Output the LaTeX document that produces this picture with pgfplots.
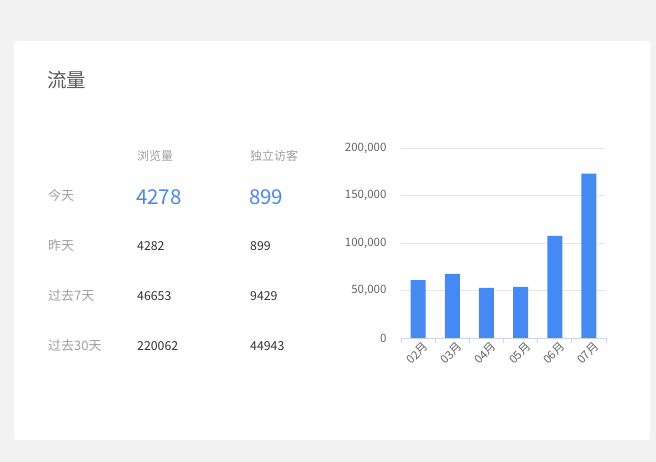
\documentclass[border=0pt]{standalone}
\usepackage{fontspec}
\setmainfont{Noto Sans CJK SC}
\usepackage{pgfplots}
\pgfplotsset{compat=1.18}
\definecolor{bgc}{HTML}{F2F2F2}
\definecolor{titlec}{HTML}{5A5A5A}
\definecolor{labc}{HTML}{A0A0A0}
\definecolor{valc}{HTML}{333333}
\definecolor{bigc}{HTML}{4A88E8}
\definecolor{barc}{HTML}{4589F5}
\definecolor{gridc}{HTML}{E6E6E6}
\definecolor{axc}{HTML}{C9D6E8}
\definecolor{tickc}{HTML}{666666}
\begin{document}
\begin{tikzpicture}[x=1pt,y=1pt]
\fill[bgc] (0pt,0pt) rectangle (656pt,462pt);
\useasboundingbox (0pt,0pt) rectangle (656pt,462pt);
\fill[white, rounded corners=3pt] (14pt,22pt) rectangle (650pt,421pt);
\node[anchor=west, inner sep=0pt, text=titlec, font=\fontsize{19.5}{22}\selectfont] at (47pt,382pt) {流量};
% headers
\node[anchor=west, inner sep=0pt, text=labc, font=\fontsize{12}{14}\selectfont] at (137pt,306pt) {浏览量};
\node[anchor=west, inner sep=0pt, text=labc, font=\fontsize{12}{14}\selectfont] at (250pt,306pt) {独立访客};
% row labels
\foreach \lab/\yy in {今天/266, 昨天/216, 过去7天/166, 过去30天/116}
  \node[anchor=west, inner sep=0pt, text=labc, font=\fontsize{13}{15}\selectfont] at (48pt,\yy pt) {\lab};
\node[anchor=west, inner sep=0pt, text=bigc, font=\fontsize{20.5}{24}\selectfont] at (136pt,265pt) {4278};
\node[anchor=west, inner sep=0pt, text=bigc, font=\fontsize{20.5}{24}\selectfont] at (249pt,265pt) {899};
\foreach \a/\b/\yy in {4282/899/216, 46653/9429/166, 220062/44943/116}{
  \node[anchor=west, inner sep=0pt, text=valc, font=\fontsize{12.3}{15}\selectfont] at (137pt,\yy pt) {\a};
  \node[anchor=west, inner sep=0pt, text=valc, font=\fontsize{12.3}{15}\selectfont] at (250pt,\yy pt) {\b};
}
\begin{axis}[
  at={(401pt,124pt)}, anchor=south west,
  scale only axis, width=205pt, height=190pt,
  xmin=-0.5, xmax=5.5, ymin=0, ymax=200000,
  axis line style={draw=none},
  xtick pos=lower, ytick pos=left,
  xtick={0,...,5},
  xticklabels={02月,03月,04月,05月,06月,07月},
  minor xtick={-0.5,0.5,...,5.5},
  major tick length=0pt,
  minor tick length=5pt,
  tick align=outside,
  minor tick style={axc, line width=0.8pt},
  x tick label style={rotate=45, anchor=north east, font=\fontsize{11.5}{13}\selectfont, text=tickc, inner sep=1pt, yshift=-4pt, xshift=2pt},
  ytick={0,50000,100000,150000,200000},
  scaled y ticks=false,
  y tick label style={font=\fontsize{11.5}{13}\selectfont, text=tickc, xshift=-11pt},
  yticklabel style={/pgf/number format/fixed, /pgf/number format/1000 sep={,}, /pgf/number format/assume math mode=true},
  ymajorgrids, grid style={gridc, line width=0.8pt},
  xmajorgrids=false,
  clip=false,
]
\addplot[ybar, bar width=15pt, fill=barc, draw=none] coordinates {
  (0,61000) (1,67400) (2,52700) (3,53700) (4,107500) (5,173000)};
\draw[axc, line width=0.8pt] (axis cs:-0.5,0) -- (axis cs:5.5,0);
\end{axis}
\end{tikzpicture}
\end{document}
